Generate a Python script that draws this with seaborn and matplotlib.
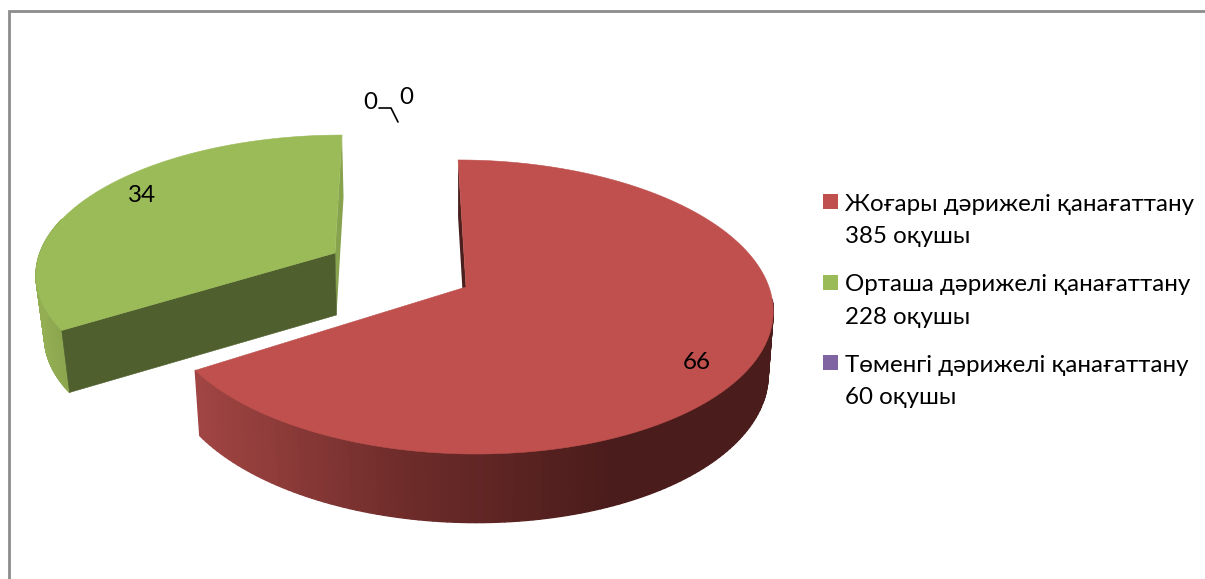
import numpy as np
import matplotlib
matplotlib.use('Agg')
import matplotlib.pyplot as plt
from matplotlib.patches import Polygon, Rectangle
from matplotlib.collections import PolyCollection
import seaborn as sns

# values as printed on the slices (first two are the visible ones)
slice_values = [66, 34, 0, 0]
slice_labels = ['66', '34', '0', '0']
legend_lines = [
    'Жоғары дәрижелі қанағаттану\n385 оқушы',
    'Орташа дәрижелі қанағаттану\n228 оқушы',
    'Төменгі дәрижелі қанағаттану\n60 оқушы',
]
legend_colors = ['#c0504d', '#9bbb59', '#8064a2']

sns.set_style('white')
plt.rcParams['font.family'] = ['Lato', 'Noto Sans', 'DejaVu Sans']

W, H = 1205, 579
PERSP = 0.136


def project(theta, ax0, ay0, A, B, S):
    # disc point -> screen, far side of the pie is squeezed a bit
    u, v = np.sin(theta), np.cos(theta)
    d = 1 + PERSP * v
    return ax0 + (A * u + S * v) / d, ay0 - B * v / d


def rim(t0, t1, geom, n=160):
    th = np.linspace(t0, t1, n)
    x, y = project(th, *geom)
    return np.column_stack([x, y])


def draw_wall(ax, t0, t1, top, bottom, color_of_x, z):
    a = rim(t0, t1, top, 120)
    b = rim(t0, t1, bottom, 120)
    quads, cols = [], []
    for i in range(len(a) - 1):
        quads.append([a[i], a[i + 1], b[i + 1], b[i]])
        cols.append(color_of_x((a[i][0] + a[i + 1][0]) / 2))
    ax.add_collection(PolyCollection(quads, facecolors=cols, edgecolors=cols, linewidths=1.0, zorder=z))


fig = plt.figure(figsize=(W / 100, H / 100), dpi=100)
ax = fig.add_axes([0, 0, 1, 1])
ax.set_xlim(0, W)
ax.set_ylim(H, 0)
ax.axis('off')

# frame of the pasted chart, only left and top are in the crop
ax.plot([9, 9, W], [H, 11, 11], color='#8c8c8c', lw=2, solid_joinstyle='miter', zorder=1)

angles = np.cumsum([0] + slice_values) / np.sum(slice_values) * 2 * np.pi
red_a, red_b = angles[0], angles[1]
green_a, green_b = angles[1], angles[2]

# (apex x, apex y, A, B, skew) top and bottom disc of every slice
red_top = (466, 287, 303, 144.3, -9)
red_bot = (466, 349, 298, 150, -9)
green_top = (335, 253, 295, 134, 8)
green_bot = (336.5, 315, 288, 134, 8)

red_ramp = sns.blend_palette(['#a14543', '#6e2c2a', '#4a1c1b'], 101)


def red_color(x):
    return red_ramp[int(np.clip((x - 192) / (610 - 192), 0, 1) * 100)]


green_ramp = sns.blend_palette(['#93ae53', '#86a24c'], 51)


def green_color(x):
    return green_ramp[int(np.clip((x - 36) / 40, 0, 1) * 50)]


# green slice, pulled out. walls only where they can be seen
ax.add_patch(Polygon([project(green_b, *green_top), green_top[:2], green_bot[:2], project(green_b, *green_bot)],
                     closed=True, fc='#88a34e', ec='none', zorder=2))
draw_wall(ax, green_a, np.radians(285), green_top, green_bot, green_color, 2)
ax.add_patch(Polygon([project(green_a, *green_top), green_top[:2], green_bot[:2], project(green_a, *green_bot)],
                     closed=True, fc='#4f5f2d', ec='#4f5f2d', lw=0.4, zorder=3))
ax.add_patch(Polygon(np.vstack([rim(green_a, green_b, green_top), [green_top[:2]]]),
                     closed=True, fc='#9bbb59', ec='#9bbb59', lw=0.4, zorder=4))

# red slice
ax.add_patch(Polygon([project(red_a, *red_top), red_top[:2], red_bot[:2], project(red_a, *red_bot)],
                     closed=True, fc='#4a1f1e', ec='none', zorder=5))
draw_wall(ax, np.radians(95), red_b, red_top, red_bot, red_color, 5)
ax.add_patch(Polygon(np.vstack([rim(red_a, red_b, red_top), [red_top[:2]]]),
                     closed=True, fc='#bf504d', ec='#bf504d', lw=0.4, zorder=6))

# data labels
fs = 17.4
ax.text(697, 362.5, slice_labels[0], ha='center', va='center', fontsize=fs, color='black', zorder=8)
ax.text(142.5, 195, slice_labels[1], ha='center', va='center', fontsize=fs, color='black', zorder=8)
ax.text(370, 102.5, slice_labels[2], ha='center', va='center', fontsize=fs, color='black', zorder=8)
ax.text(406, 97.5, slice_labels[3], ha='center', va='center', fontsize=fs, color='black', zorder=8)
ax.plot([379, 391, 398], [108, 108, 122], color='black', lw=1.2, zorder=8)

# legend, placed by hand because entries have two lines
for i, (txt, col) in enumerate(zip(legend_lines, legend_colors)):
    y0 = 194 + i * 80.5
    ax.add_patch(Rectangle((823, y0), 15, 15, fc=col, ec='none', zorder=8))
    first, second = txt.split('\n')
    ax.text(845, y0 + 16.7, first, ha='left', va='baseline', fontsize=fs, color='black', zorder=8)
    ax.text(845, y0 + 49, second, ha='left', va='baseline', fontsize=fs, color='black', zorder=8)

fig.savefig('out.png', dpi=100)
